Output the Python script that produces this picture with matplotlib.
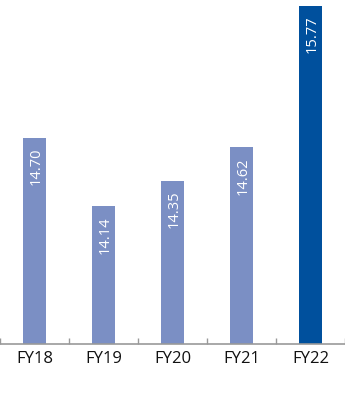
import matplotlib.pyplot as plt
import numpy as np

years = ["FY18", "FY19", "FY20", "FY21", "FY22"]
values = [14.70, 14.14, 14.35, 14.62, 15.77]
colors = ["#7b8fc4", "#7b8fc4", "#7b8fc4", "#7b8fc4", "#00509d"]

plt.rcParams['font.family'] = ['Open Sans', 'DejaVu Sans']

fig = plt.figure(figsize=(3.45, 3.99), dpi=100)
ax = fig.add_axes([0, 0.138, 1, 0.862])

x = np.arange(len(years))
bars = ax.bar(x, values, width=0.32, color=colors, bottom=0)

for xi, v in zip(x, values):
    ax.annotate("%.2f" % v, (xi, v), xytext=(1, -7), textcoords="offset points",
                ha="center", va="top", rotation=90, color="white", fontsize=10.5)

ax.set_ylim(13.02, 15.82)
ax.set_xlim(-0.5, 4.5)
ax.set_xticks(x)
ax.set_xticklabels(years, fontsize=12, color="#111111")
ax.tick_params(axis="x", which="major", length=0, pad=5)
ax.set_xticks(np.arange(-0.5, 5, 1), minor=True)
ax.tick_params(axis="x", which="minor", length=4, direction="in", color="#999999", width=1)
ax.set_yticks([])
for s in ["top", "left", "right"]:
    ax.spines[s].set_visible(False)
ax.spines["bottom"].set_color("#999999")
ax.spines["bottom"].set_linewidth(1.2)

fig.savefig("out.png", dpi=100)
